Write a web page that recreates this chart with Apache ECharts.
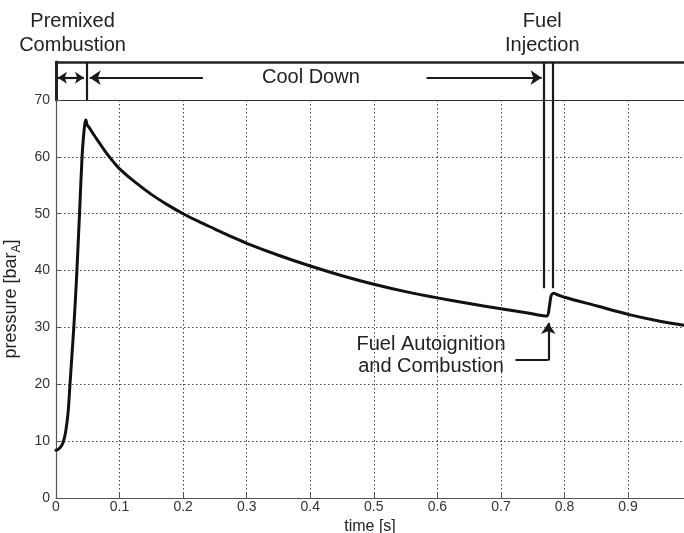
<!DOCTYPE html>
<html><head><meta charset="utf-8">
<script src="https://cdn.jsdelivr.net/npm/echarts@6/dist/echarts.min.js"></script>
<style>html,body{margin:0;padding:0;background:#fff}#c{width:684px;height:533px}</style>
</head><body><div id="c"></div>
<script>
// ---- data ----
const timeS = [0, 0.004, 0.008, 0.011, 0.015, 0.019, 0.022, 0.025, 0.028, 0.032, 0.037, 0.041, 0.044, 0.046, 0.047, 0.049, 0.052, 0.056, 0.06, 0.068, 0.076, 0.084, 0.092, 0.1, 0.125, 0.15, 0.175, 0.2, 0.225, 0.25, 0.275, 0.3, 0.35, 0.4, 0.45, 0.5, 0.55, 0.6, 0.65, 0.7, 0.74, 0.772, 0.776, 0.779, 0.783, 0.79, 0.8, 0.85, 0.9, 0.95, 0.988];
const pressureBar = [8.4, 8.6, 9.1, 9.7, 11.5, 15, 20, 25, 30, 38, 50, 60, 64.5, 66.2, 66.5, 65.6, 65.2, 64.5, 63.8, 62.5, 61.2, 60.0, 58.9, 57.9, 55.5, 53.4, 51.6, 50.0, 48.6, 47.3, 46.0, 44.8, 42.7, 40.8, 39.1, 37.6, 36.3, 35.2, 34.2, 33.3, 32.6, 32.0, 33.5, 35.6, 36.0, 35.7, 35.3, 33.8, 32.3, 31.1, 30.4];
const xTickLabels = ['0', '0.1', '0.2', '0.3', '0.4', '0.5', '0.6', '0.7', '0.8', '0.9'];
const yTickLabels = ['0', '10', '20', '30', '40', '50', '60', '70'];
// phase boundaries (time, s)
const premixedEndS = 0.048;
const injectionStartS = 0.7677;
const injectionEndS = 0.7814;
const annotationLabels = ['Premixed\nCombustion', 'Cool Down', 'Fuel\nInjection', 'Fuel Autoignition\nand Combustion'];

// ---- chart ----
const FONT = '"Liberation Sans", Arial, Helvetica, sans-serif';
const T_MAX = 0.988;
const INK = '#1a1a1a';
const chart = echarts.init(document.getElementById('c'), null, {renderer: 'canvas'});

const arrowY = 0.587;   // arrow row inside the phase box (0..1)
const option = {
  animation: false,
  backgroundColor: '#fff',
  grid: [
    {left: 56, right: 0, top: 100, bottom: 35, containLabel: false, outerBoundsMode: 'none'},
    {left: 56, right: 0, top: 62, height: 38, containLabel: false, outerBoundsMode: 'none'}
  ],
  xAxis: [
    {
      gridIndex: 0, type: 'value', min: 0, max: T_MAX, interval: 0.1,
      name: 'time [s]', nameLocation: 'middle', nameGap: 15,
      nameTextStyle: {fontSize: 16, color: '#222', fontFamily: FONT},
      axisLine: {lineStyle: {color: '#555', width: 1.2}},
      axisTick: {inside: true, length: 5, lineStyle: {color: '#555'}},
      axisLabel: {
        fontSize: 14, color: '#333', fontFamily: FONT, margin: 2, showMaxLabel: false,
        formatter: v => { const r = Math.round(v * 10); return Math.abs(v * 10 - r) < 1e-6 && xTickLabels[r] ? xTickLabels[r] : ''; }
      },
      splitLine: {show: true, lineStyle: {color: '#444', type: [1.5, 2.5], width: 1}}
    },
    {
      gridIndex: 1, type: 'value', min: 0, max: T_MAX, position: 'bottom',
      axisLine: {show: true, onZero: false, lineStyle: {color: '#333', width: 1.2}},
      axisTick: {show: false}, axisLabel: {show: false}, splitLine: {show: false}
    },
    {
      gridIndex: 1, type: 'value', min: 0, max: T_MAX, position: 'top',
      axisLine: {show: true, onZero: false, lineStyle: {color: '#222', width: 2.5}},
      axisTick: {show: false}, axisLabel: {show: false}, splitLine: {show: false}
    }
  ],
  yAxis: [
    {
      gridIndex: 0, type: 'value', min: 0, max: 70, interval: 10,
      name: '{n|pressure [bar}{s|A}{n|]}', nameLocation: 'middle', nameGap: 33, nameRotate: 90,
      nameTextStyle: {
        color: '#222', fontFamily: FONT,
        rich: {
          n: {fontSize: 18, color: '#222', fontFamily: FONT},
          s: {fontSize: 12, color: '#222', fontFamily: FONT, padding: [12, 0, 0, 0]}
        }
      },
      axisLine: {show: true, lineStyle: {color: '#555', width: 1.2}},
      axisTick: {show: true, inside: true, length: 5, lineStyle: {color: '#555'}},
      axisLabel: {
        fontSize: 14, color: '#333', fontFamily: FONT, margin: 6,
        formatter: v => yTickLabels[Math.round(v / 10)] || ''
      },
      splitLine: {show: true, lineStyle: {color: '#444', type: [1.5, 2.5], width: 1}}
    },
    {
      gridIndex: 1, type: 'value', min: 0, max: 1,
      axisLine: {show: true, onZero: false, lineStyle: {color: '#222', width: 3}},
      axisTick: {show: false}, axisLabel: {show: false}, splitLine: {show: false}
    }
  ],
  series: [
    {
      type: 'line', xAxisIndex: 0, yAxisIndex: 0,
      data: timeS.map((t, i) => [t, pressureBar[i]]),
      showSymbol: false, smooth: 0.3,
      lineStyle: {color: '#111', width: 3, join: 'round', cap: 'round'},
      silent: true, z: 5
    },
    // phase box: vertical separators
    {
      type: 'lines', coordinateSystem: 'cartesian2d', xAxisIndex: 1, yAxisIndex: 1,
      symbol: ['none', 'none'], silent: true,
      lineStyle: {color: INK, width: 2.2, opacity: 1},
      data: [
        {coords: [[premixedEndS, 0], [premixedEndS, 1]]},
        {coords: [[injectionStartS, 0], [injectionStartS, 1]]},
        {coords: [[injectionEndS, 0], [injectionEndS, 1]]}
      ]
    },
    // double arrow over premixed combustion
    {
      type: 'lines', coordinateSystem: 'cartesian2d', xAxisIndex: 1, yAxisIndex: 1,
      symbol: ['arrow', 'arrow'], symbolSize: 9, silent: true,
      lineStyle: {color: INK, width: 2.2, opacity: 1},
      data: [{coords: [[0.003, arrowY], [0.044, arrowY]]}]
    },
    // cool-down left arrow
    {
      type: 'lines', coordinateSystem: 'cartesian2d', xAxisIndex: 1, yAxisIndex: 1,
      symbol: ['arrow', 'none'], symbolSize: 11, silent: true,
      lineStyle: {color: INK, width: 2.2, opacity: 1},
      data: [{coords: [[0.053, arrowY], [0.231, arrowY]]}]
    },
    // cool-down right arrow
    {
      type: 'lines', coordinateSystem: 'cartesian2d', xAxisIndex: 1, yAxisIndex: 1,
      symbol: ['none', 'arrow'], symbolSize: 11, silent: true,
      lineStyle: {color: INK, width: 2.2, opacity: 1},
      data: [{coords: [[0.583, arrowY], [0.764, arrowY]]}]
    },
    // injection marker lines inside the plot
    {
      type: 'lines', coordinateSystem: 'cartesian2d', xAxisIndex: 0, yAxisIndex: 0,
      symbol: ['none', 'none'], silent: true,
      lineStyle: {color: INK, width: 2.2, opacity: 1},
      data: [
        {coords: [[injectionStartS, 36.9], [injectionStartS, 70]]},
        {coords: [[injectionEndS, 36.9], [injectionEndS, 70]]},
        {coords: [[0.7228, 24.4], [0.7745, 24.4]]}
      ]
    },
    // autoignition arrow
    {
      type: 'lines', coordinateSystem: 'cartesian2d', xAxisIndex: 0, yAxisIndex: 0,
      symbol: ['none', 'arrow'], symbolSize: 11, silent: true,
      lineStyle: {color: INK, width: 2.2, opacity: 1},
      data: [{coords: [[0.7745, 24.2], [0.7745, 30.8]]}]
    }
  ]
};
chart.setOption(option);

// ---- annotation text, placed in data coordinates ----
const box = (t, y) => chart.convertToPixel({xAxisIndex: 1, yAxisIndex: 1}, [t, y]);
const plot = (t, p) => chart.convertToPixel({xAxisIndex: 0, yAxisIndex: 0}, [t, p]);
const txt = (pos, text, size, lh) => ({
  type: 'text', x: pos[0], y: pos[1], silent: true, z: 20,
  style: {text: text, fill: '#222', font: size + 'px ' + FONT, align: 'center', verticalAlign: 'middle', lineHeight: lh}
});
chart.setOption({
  graphic: [
    txt(box(0.026, 1.763), annotationLabels[0], 20, 24),
    txt(box(0.401, arrowY), annotationLabels[1], 20, 24),
    txt(box(0.765, 1.763), annotationLabels[2], 20, 24),
    txt(plot(0.590, 25.0), annotationLabels[3], 20, 22)
  ]
});
</script>
</body></html>
